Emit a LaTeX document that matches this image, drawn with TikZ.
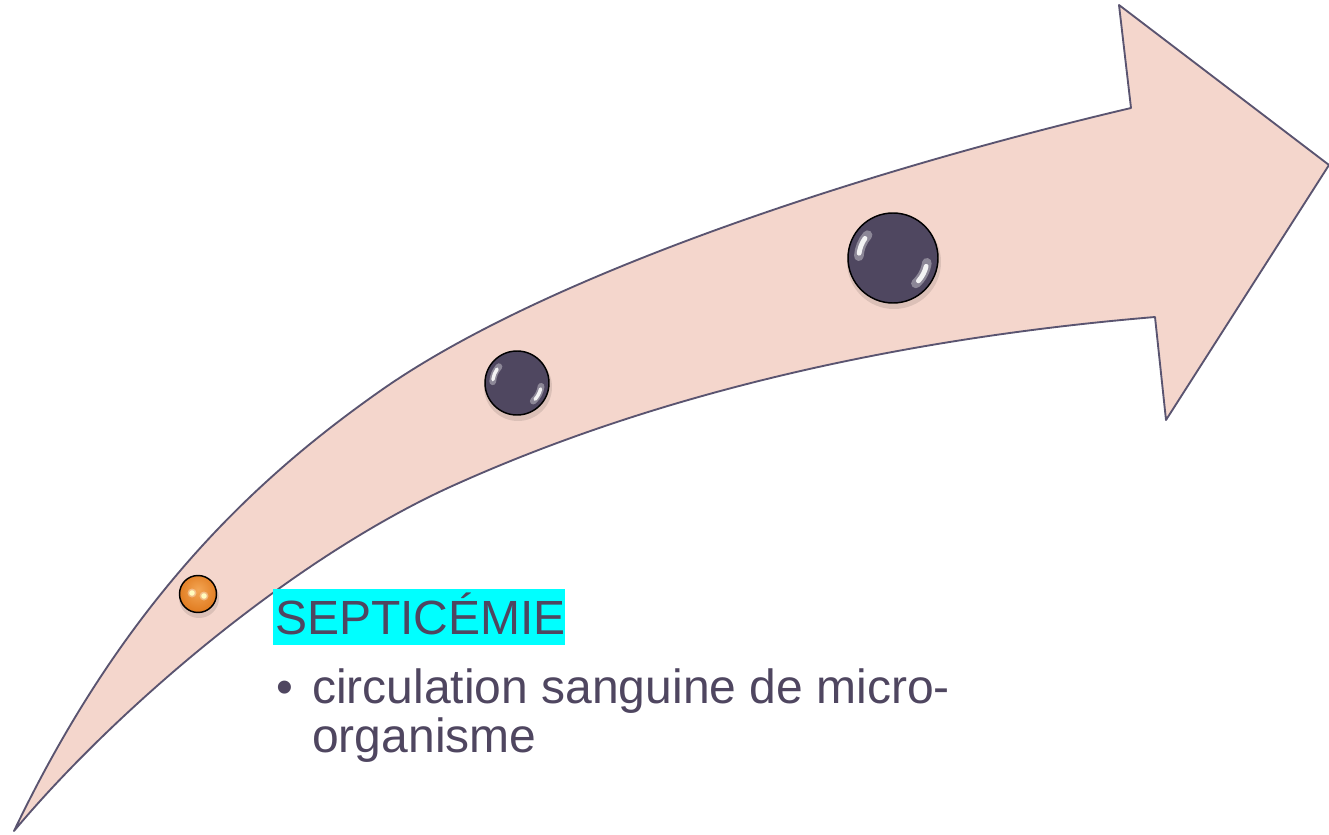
\documentclass[tikz,border=0pt]{standalone}
\usepackage{fontspec}
\setmainfont{Liberation Sans}
\definecolor{arrowfillc}{HTML}{F4D6CC}
\definecolor{arrowline}{HTML}{5A5470}
\definecolor{txtc}{HTML}{4F4660}
\definecolor{hilite}{HTML}{00FFFF}
\definecolor{ballc}{HTML}{4F4760}
\definecolor{ballrim}{HTML}{A6A2B2}
\definecolor{orc}{HTML}{E07A1E}
\definecolor{orlight}{HTML}{F3A655}
\pgfdeclareradialshading{ballshade}{\pgfpoint{0bp}{0bp}}{color(0bp)=(ballc); color(32bp)=(ballc); color(44bp)=(ballrim!85!ballc); color(50bp)=(ballrim)}
\pgfdeclareradialshading{orshade}{\pgfpoint{0bp}{6bp}}{color(0bp)=(orlight); color(28bp)=(orc); color(50bp)=(orc!80!black)}
\tikzset{
  arrowbody/.style={fill=arrowfillc, draw=arrowline, line width=1.4pt, line join=round},
  bigtext/.style={font=\fontsize{36}{36}\selectfont, text=txtc, inner sep=0pt},
  ballline/.style={draw=black, line width=1.1pt},
}
\newcommand\gball[3]{%
  \fill[black, opacity=0.10] (#1+1,#2+4) circle (#3+2);
  \shade[shading=ballshade] (#1,#2) circle (#3);
  \draw[white, opacity=0.35, line width=#3*0.16pt, line cap=round] (#1,#2) ++(183:0.76*#3) arc (183:222:0.76*#3);
  \draw[white, opacity=0.9, line width=#3*0.08pt, line cap=round] (#1,#2) ++(188:0.76*#3) arc (188:215:0.76*#3);
  \draw[white, opacity=0.35, line width=#3*0.16pt, line cap=round] (#1,#2) ++(8:0.76*#3) arc (8:48:0.76*#3);
  \draw[white, opacity=0.9, line width=#3*0.08pt, line cap=round] (#1,#2) ++(14:0.76*#3) arc (14:42:0.76*#3);
  \draw[ballline] (#1,#2) circle (#3);
}
\begin{document}
\begin{tikzpicture}[x=0.75pt, y=-0.75pt]
\useasboundingbox (0,0) rectangle (1329,835);
% arrow
\filldraw[arrowbody] (14,831)
  .. controls (126,597) and (260,475) .. (383,389)
  .. controls (547,275) and (859,172) .. (1131,108)
  -- (1119,5) -- (1329,165) -- (1166,420) -- (1155,317)
  .. controls (916,337) and (668,388) .. (450,487)
  .. controls (286,562) and (110,716) .. (14,831)
  -- cycle;
% balls
\gball{517}{383}{32}
\gball{893}{258}{45}
% orange ball
\fill[black, opacity=0.10] (199,598) circle (20);
\shade[shading=orshade] (198,594) circle (18.5);
\fill[white, opacity=0.35] (192,593) circle (4.5);
\fill[white, opacity=0.35] (204,596) circle (4.5);
\fill[white!75!yellow] (192,593) circle (2.8);
\fill[white!75!yellow] (204,596) circle (2.8);
\draw[ballline] (198,594) circle (18.5);
% texts
\fill[hilite] (273,589) rectangle (565,645);
\node[bigtext, anchor=base west] (title) at (275,634) {SEPTICÉMIE};
\node[bigtext, anchor=base west] (bullet) at (276,703) {•};
\node[bigtext, anchor=base west] (line1) at (312,703) {circulation sanguine de micro-};
\node[bigtext, anchor=base west] (line2) at (312,752) {organisme};
\end{tikzpicture}
\end{document}
